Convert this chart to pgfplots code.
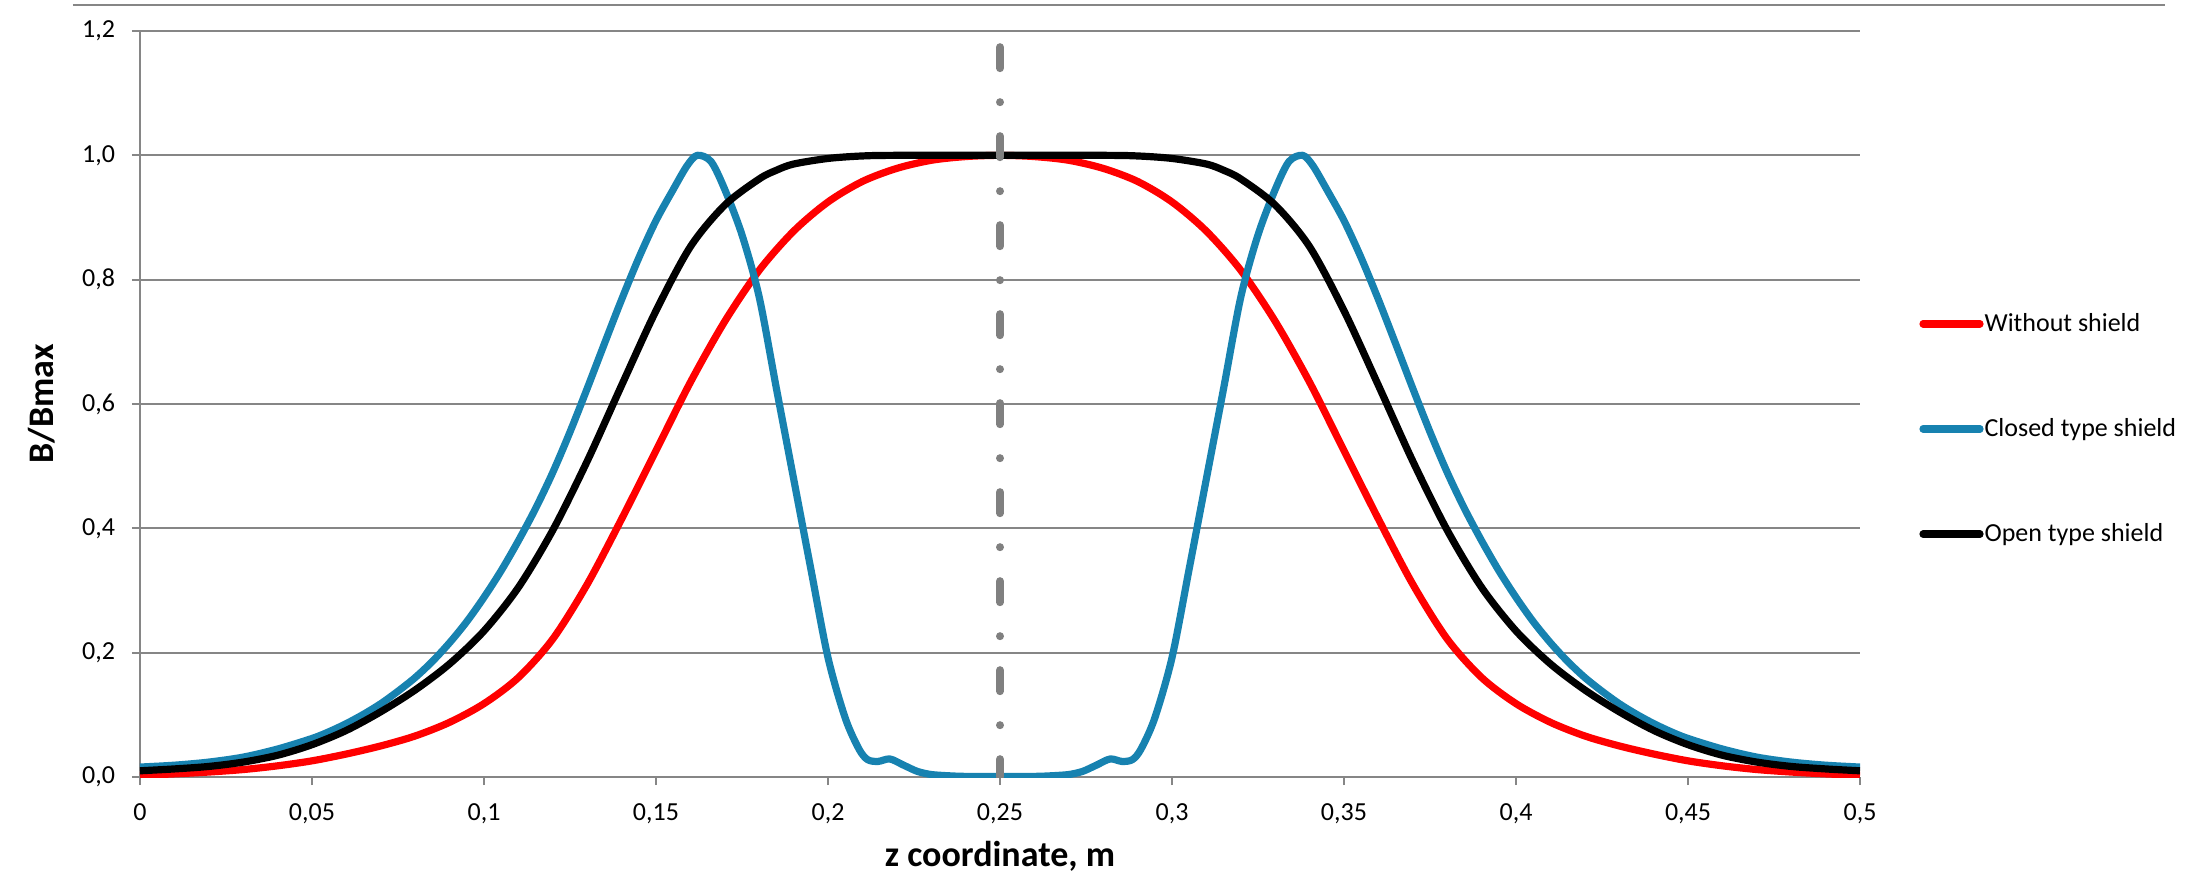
\documentclass[border=0pt]{standalone}
\usepackage{fontspec}
\setmainfont{Carlito}
\usepackage{pgfplots}
\pgfplotsset{compat=1.18}

\definecolor{gridgray}{RGB}{134,134,134}
\definecolor{shieldblue}{RGB}{23,130,176}
\definecolor{dashgray}{RGB}{128,128,128}

\begin{document}
\begin{tikzpicture}
\begin{axis}[
    at={(0,0)}, anchor=south west,
    scale only axis,
    width=860pt, height=373pt,
    xmin=0, xmax=0.5, ymin=0, ymax=1.2,
    xtick={0,0.05,0.1,0.15,0.2,0.25,0.3,0.35,0.4,0.45,0.5},
    xticklabels={{0},{0,05},{0,1},{0,15},{0,2},{0,25},{0,3},{0,35},{0,4},{0,45},{0,5}},
    ytick={0,0.2,0.4,0.6,0.8,1.0,1.2},
    yticklabels={{0,0},{0,2},{0,4},{0,6},{0,8},{1,0},{1,2}},
    axis lines=left,
    axis line style={gridgray, line width=1pt, -},
    ymajorgrids,
    grid style={gridgray, line width=1pt},
    tick align=outside,
    major tick length=4pt,
    tick style={gridgray, line width=1pt},
    ticklabel style={font=\fontsize{13}{15}\selectfont, text=black},
    yticklabel style={xshift=-5pt},
    xticklabel style={yshift=-6pt},
    xlabel={z coordinate, m},
    ylabel={B/Bmax},
    xlabel style={at={(axis description cs:0.5,0)}, anchor=base, yshift=-44.5pt,
        font=\fontsize{18}{21}\selectfont\bfseries},
    ylabel style={at={(axis description cs:-0.057,0.5)}, anchor=center,
        font=\fontsize{18}{21}\selectfont\bfseries},
    every axis plot/.append style={line width=3.6pt, line join=round, smooth},
    legend style={draw=none, fill=none, at={(1.0343,0.4665)}, anchor=west,
        inner sep=0pt, row sep=41pt, font=\fontsize{13}{15}\selectfont,
        nodes={inner sep=0.5pt}},
    legend image code/.code={\draw[#1, line cap=round] (0pt,0pt) -- (28.5pt,0pt);},
    legend cell align=left,
]

% Without shield
\addplot[red] coordinates {
(0,0.003) (0.01,0.005) (0.02,0.008) (0.03,0.012) (0.04,0.018) (0.05,0.026)
(0.06,0.037) (0.07,0.050) (0.08,0.066) (0.09,0.088) (0.10,0.118) (0.11,0.160)
(0.12,0.222) (0.13,0.310) (0.14,0.415) (0.15,0.525) (0.16,0.635) (0.17,0.733)
(0.18,0.815) (0.19,0.878) (0.20,0.925) (0.21,0.958) (0.22,0.979) (0.23,0.992)
(0.24,0.998) (0.25,1.000)
(0.26,0.998) (0.27,0.992) (0.28,0.979) (0.29,0.958) (0.30,0.925) (0.31,0.878)
(0.32,0.815) (0.33,0.733) (0.34,0.635) (0.35,0.525) (0.36,0.415) (0.37,0.310)
(0.38,0.222) (0.39,0.160) (0.40,0.118) (0.41,0.088) (0.42,0.066) (0.43,0.050)
(0.44,0.037) (0.45,0.026) (0.46,0.018) (0.47,0.012) (0.48,0.008) (0.49,0.005)
(0.50,0.003)
};
\addlegendentry{Without shield}

% Closed type shield
\addplot[shieldblue] coordinates {
(0,0.016) (0.01,0.019) (0.02,0.024) (0.03,0.032) (0.04,0.045) (0.05,0.062)
(0.055,0.073) (0.06,0.086) (0.065,0.101) (0.07,0.118) (0.075,0.138) (0.08,0.160)
(0.085,0.186) (0.09,0.216) (0.095,0.250) (0.10,0.289) (0.105,0.332) (0.11,0.380)
(0.115,0.432) (0.12,0.490) (0.125,0.555) (0.13,0.625) (0.135,0.697) (0.14,0.768)
(0.145,0.835) (0.15,0.895) (0.155,0.945) (0.159,0.983) (0.162,1.000) (0.166,0.990)
(0.17,0.945) (0.175,0.872) (0.18,0.772) (0.185,0.625) (0.19,0.480) (0.195,0.335)
(0.20,0.192) (0.205,0.095) (0.209,0.045) (0.2115,0.028) (0.2145,0.025) (0.218,0.029)
(0.222,0.019) (0.226,0.009) (0.23,0.004) (0.235,0.002) (0.24,0.001) (0.25,0.001)
(0.26,0.001) (0.265,0.002) (0.27,0.004) (0.274,0.009) (0.278,0.019) (0.282,0.029)
(0.2855,0.025) (0.2885,0.028) (0.291,0.045) (0.295,0.095) (0.30,0.192) (0.305,0.335)
(0.31,0.480) (0.315,0.625) (0.32,0.772) (0.325,0.872) (0.33,0.945) (0.334,0.990)
(0.338,1.000) (0.341,0.983) (0.345,0.945) (0.35,0.895) (0.355,0.835) (0.36,0.768)
(0.365,0.697) (0.37,0.625) (0.375,0.555) (0.38,0.490) (0.385,0.432) (0.39,0.380)
(0.395,0.332) (0.40,0.289) (0.405,0.250) (0.41,0.216) (0.415,0.186) (0.42,0.160)
(0.425,0.138) (0.43,0.118) (0.435,0.101) (0.44,0.086) (0.445,0.073) (0.45,0.062)
(0.46,0.045) (0.47,0.032) (0.48,0.024) (0.49,0.019) (0.50,0.016)
};
\addlegendentry{Closed type shield}

% Open type shield
\addplot[black] coordinates {
(0,0.010) (0.01,0.013) (0.02,0.017) (0.03,0.024) (0.04,0.035) (0.05,0.052)
(0.06,0.075) (0.07,0.105) (0.08,0.140) (0.09,0.182) (0.10,0.235) (0.11,0.305)
(0.12,0.397) (0.13,0.508) (0.14,0.630) (0.15,0.750) (0.16,0.853) (0.17,0.920)
(0.18,0.962) (0.185,0.976) (0.19,0.986) (0.20,0.995) (0.21,0.999) (0.22,1.000)
(0.25,1.000)
(0.28,1.000) (0.29,0.999) (0.30,0.995) (0.31,0.986) (0.315,0.976) (0.32,0.962)
(0.33,0.920) (0.34,0.853) (0.35,0.750) (0.36,0.630) (0.37,0.508) (0.38,0.397)
(0.39,0.305) (0.40,0.235) (0.41,0.182) (0.42,0.140) (0.43,0.105) (0.44,0.075)
(0.45,0.052) (0.46,0.035) (0.47,0.024) (0.48,0.017) (0.49,0.013) (0.50,0.010)
};
\addlegendentry{Open type shield}

% centre line
\addplot[dashgray, line width=4pt, line cap=round, sharp plot,
    dash pattern=on 10.5pt off 17pt on 0pt off 17pt, forget plot]
    coordinates {(0.25,1.174) (0.25,0)};

\end{axis}
\draw[gridgray, line width=1pt] (-33.5pt,386pt) -- (1012.5pt,386pt);
\pgfresetboundingbox
\useasboundingbox (-70pt,-51pt) rectangle (1031.5pt,388.5pt);
\end{tikzpicture}
\end{document}
